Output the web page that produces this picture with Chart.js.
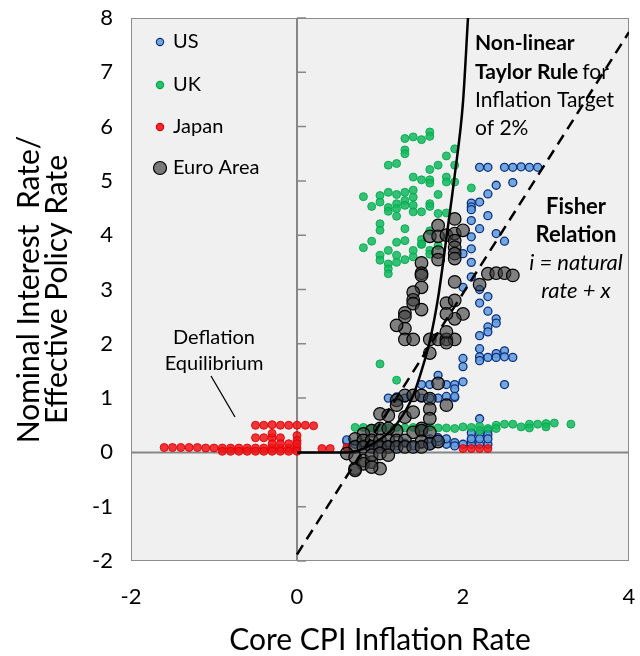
<!DOCTYPE html>
<html><head><meta charset="utf-8">
<script src="https://cdn.jsdelivr.net/npm/chart.js@4/dist/chart.umd.min.js"></script>
<style>html,body{margin:0;padding:0;background:#fff}#wrap{width:640px;height:656px}</style>
</head><body><div id="wrap"><canvas id="c" width="640" height="656"></canvas></div>
<script>
const FONT = 'Lato, "Open Sans", sans-serif';
const seriesNames = ['US', 'UK', 'Japan', 'Euro Area'];
const xTickValues = [-2, 0, 2, 4];
const yTickValues = [-2, -1, 0, 1, 2, 3, 4, 5, 6, 7, 8];

const usData = [
  [2.2,5.25],[2.3,5.25],[2.5,5.25],[2.6,5.25],[2.7,5.26],[2.8,5.25],[2.9,5.25],
  [2.6,4.97],[2.4,4.92],[2.3,4.76],[2.2,4.61],[2.1,4.59],[2.1,4.52],[2.1,4.47],[2.3,4.36],[2.1,4.27],
  [2.2,4.12],[2.4,4.03],[2.5,3.89],[2.1,3.97],[2.1,3.75],[2.0,3.66],[2.1,3.50],[2.1,3.23],[2.0,3.04],
  [2.2,3.00],[2.3,2.87],[2.2,2.75],[2.3,2.60],[2.4,2.46],[2.4,2.38],[2.3,2.31],[2.3,2.22],[2.2,2.15],
  [2.2,1.91],[2.2,1.76],[2.2,1.69],[2.3,1.75],[2.4,1.82],[2.4,1.75],[2.5,1.87],[2.5,1.76],[2.6,1.75],
  [2.0,1.73],[2.0,1.58],[2.0,1.30],[2.5,1.25],
  [1.5,1.25],[1.6,1.25],[1.7,1.42],[1.8,1.25],[1.9,1.25],[1.9,1.17],[1.9,1.01],
  [1.1,1.00],[1.2,1.02],[1.3,1.00],[1.5,1.00],[1.6,1.00],[1.7,1.00],[1.8,1.03],[1.9,1.03],
  [2.2,0.62],[2.2,0.34],[2.3,0.40],[2.3,0.33],[2.1,0.36],
  [1.9,0.18],[1.9,0.12],[2.0,0.15],[2.1,0.22],[2.1,0.15],[2.2,0.15],[2.3,0.15],
  [0.6,0.20],[0.7,0.15],[0.8,0.12],[0.9,0.15],[1.0,0.12],[1.1,0.15],[1.2,0.12],[1.3,0.17],[1.4,0.12],
  [1.5,0.15],[1.6,0.12],[1.7,0.20],[1.8,0.15],
  [0.6,0.23],[1.6,0.25],[1.7,0.27],[1.8,0.25],[2.1,0.25],[2.2,0.25],[2.3,0.25]
];

const ukData = [
  [1.3,5.78],[1.4,5.81],[1.5,5.76],[1.6,5.90],[1.6,5.82],[1.3,5.57],[1.3,5.50],[1.1,5.29],[1.2,5.32],
  [1.8,5.46],[1.9,5.59],[1.7,5.29],[1.9,5.29],[1.6,5.21],[1.4,5.07],[1.5,5.02],[1.6,5.02],[1.6,4.96],
  [1.8,5.07],[1.8,4.98],[1.9,4.98],[2.1,4.87],
  [0.8,4.71],[0.9,4.53],[1.0,4.73],[1.0,4.61],[1.1,4.79],[1.1,4.51],[1.1,4.44],[1.2,4.75],[1.2,4.58],
  [1.2,4.49],[1.2,4.35],[1.3,4.79],[1.3,4.64],[1.3,4.55],[1.4,4.83],[1.4,4.70],[1.4,4.55],[1.4,4.43],
  [1.5,4.43],[1.6,4.58],[1.6,4.53],[1.7,4.75],[1.7,4.40],[1.8,4.41],
  [1.0,4.21],[1.0,4.09],[1.3,4.12],[0.9,3.89],[0.8,3.77],[1.2,3.87],[1.3,3.90],[1.5,3.92],[1.5,3.83],
  [1.6,4.08],[1.7,3.81],[1.1,3.72],
  [1.0,3.63],[1.0,3.54],[1.1,3.47],[1.1,3.38],[1.1,3.29],[1.2,3.63],[1.2,3.50],[1.3,3.55],[1.4,3.72],
  [1.4,3.60],[1.5,3.84],[1.6,3.72],[1.6,3.65],
  [1.0,1.63],[1.2,1.33],
  [0.7,0.46],[0.8,0.46],[0.9,0.45],[1.0,0.46],[1.1,0.45],[1.2,0.46],[1.3,0.45],[1.4,0.46],[1.5,0.45],
  [1.6,0.47],[1.7,0.45],[1.8,0.45],[1.9,0.44],[2.0,0.47],[2.1,0.46],[2.2,0.48],[2.3,0.44],[2.4,0.50],
  [2.5,0.52],[2.6,0.52],[2.7,0.47],[2.8,0.52],[2.9,0.52],[3.0,0.53],[3.1,0.54],[3.3,0.52],
  [2.2,0.40],[2.4,0.44],[2.8,0.45],[3.0,0.47]
];

const japanData = [
  [-1.6,0.09],[-1.5,0.09],[-1.4,0.09],[-1.3,0.09],[-1.2,0.09],[-1.1,0.08],[-1.0,0.08],
  [-0.9,0.08],[-0.8,0.08],[-0.7,0.08],[-0.6,0.08],[-0.5,0.08],[-0.4,0.08],[-0.3,0.08],[-0.2,0.08],[-0.1,0.08],[0.0,0.08],
  [-0.9,0.02],[-0.8,0.02],[-0.7,0.02],[-0.6,0.02],[-0.5,0.02],[-0.4,0.02],[-0.3,0.02],[-0.2,0.02],[-0.1,0.02],[0.0,0.02],
  [-0.5,0.50],[-0.4,0.50],[-0.3,0.51],[-0.2,0.50],[-0.1,0.50],[0.0,0.50],[0.1,0.50],[0.2,0.49],
  [-0.5,0.27],[-0.4,0.27],[-0.3,0.27],[-0.2,0.27],[-0.3,0.35],[0.0,0.31],[0.0,0.22],[0.0,0.16],
  [-0.3,0.16],[-0.2,0.16],[-0.1,0.16],
  [0.3,0.07],[0.4,0.07],[0.6,0.09],[2.0,0.07],[2.1,0.07],[2.2,0.07],[2.3,0.07]
];

const euroData = [
  [1.9,4.30],[1.7,4.18],[1.6,3.98],[1.7,3.98],[1.8,4.00],[1.9,4.03],[1.9,3.90],[1.9,3.78],[1.9,3.66],
  [1.9,3.57],[2.0,4.09],[1.7,3.69],[1.7,3.55],[1.5,3.49],[1.5,3.30],[1.5,3.26],[1.5,3.04],[1.4,2.95],
  [1.4,2.81],[1.4,2.74],[1.5,2.63],[1.3,2.57],[1.3,2.50],[1.3,2.28],[1.2,2.34],[1.3,2.08],[1.4,2.08],
  [1.6,2.08],[1.7,2.08],[1.8,2.08],[1.9,2.08],[1.8,2.02],[1.6,1.83],[1.8,2.22],[1.9,3.14],[2.2,3.09],
  [1.8,2.75],[1.9,2.80],[2.0,2.55],[1.9,2.46],[1.8,2.55],[2.3,3.29],[2.4,3.30],[2.5,3.30],[2.6,3.26],
  [1.3,1.05],[1.4,1.05],[1.5,1.05],[1.2,0.96],[1.2,0.87],[1.6,0.99],[1.6,0.80],[1.8,0.87],[1.7,1.27],
  [1.0,0.71],[1.1,0.68],[1.3,0.65],[1.4,0.74],[1.6,0.62],[1.5,0.44],[1.4,0.37],[0.9,0.40],[0.8,0.34],
  [0.7,0.25],[1.2,0.40],[1.0,0.44],[1.1,0.44],[1.5,0.40],[1.6,0.37],
  [0.8,0.22],[0.9,0.22],[1.0,0.22],[1.1,0.22],[1.2,0.22],[1.3,0.22],[1.5,0.20],[1.6,0.16],[1.7,0.20],
  [0.7,0.10],[0.8,0.10],[0.9,0.10],[1.0,0.10],[1.1,0.10],[1.2,0.10],[1.3,0.10],[1.4,0.10],[1.5,0.10],
  [0.6,-0.02],[0.7,-0.09],[0.8,-0.15],[0.7,-0.30],[0.8,-0.21],[0.9,-0.18],[1.0,-0.30],[0.9,-0.27],
  [0.7,-0.33],[0.9,-0.05],[1.0,-0.02],[1.1,-0.05]
];

const taylorCurve = [[0,0],[0.6,0],[0.8,0.07],[1.0,0.24],[1.2,0.52],[1.4,1.05],[1.5,1.5],[1.6,2.05],[1.7,2.85],[1.8,3.95],[1.9,5.1],[2.0,6.45],[2.06,8]];
const fisherLine = [[0,-1.88],[4,7.74]];

const pts = a => a.map(p => ({x: p[0], y: p[1]}));

const legendStyles = [
  {fill:'rgba(100,160,220,0.9)', stroke:'#0d2f82', r:3.6},
  {fill:'rgba(20,185,95,0.9)', stroke:'#00a84a', r:3.6},
  {fill:'rgba(240,20,25,0.9)', stroke:'#e00000', r:3.6},
  {fill:'rgba(70,70,70,0.7)', stroke:'#000', r:6.5}
];

const bgPlugin = {
  id: 'bg',
  beforeDatasetsDraw(chart) {
    const {ctx, chartArea: a, scales: {x, y}} = chart;
    ctx.save();
    ctx.fillStyle = '#f0f0f0';
    ctx.fillRect(a.left, a.top, a.right - a.left, a.bottom - a.top);
    ctx.strokeStyle = '#8c8c8c';
    ctx.lineWidth = 1;
    ctx.strokeRect(a.left + 0.5, a.top + 0.5, a.right - a.left - 1, a.bottom - a.top - 1);
    ctx.strokeStyle = '#868686';
    ctx.lineWidth = 2;
    const x0 = x.getPixelForValue(0), y0 = y.getPixelForValue(0);
    ctx.beginPath();
    ctx.moveTo(a.left, y0); ctx.lineTo(a.right, y0);
    ctx.moveTo(x0, a.top); ctx.lineTo(x0, a.bottom);
    ctx.stroke();
    ctx.lineWidth = 1.5;
    ctx.beginPath();
    yTickValues.forEach(v => { const py = y.getPixelForValue(v); ctx.moveTo(x0, py); ctx.lineTo(x0 + 9, py); });
    ctx.stroke();
    ctx.restore();
  }
};

const annoPlugin = {
  id: 'anno',
  afterDraw(chart) {
    const {ctx} = chart;
    ctx.save();
    ctx.fillStyle = '#000';
    ctx.textBaseline = 'middle';
    seriesNames.forEach((n, i) => {
      const yy = [42, 85, 127, 168][i];
      const s = legendStyles[i];
      ctx.beginPath();
      ctx.arc(160, yy, s.r, 0, Math.PI * 2);
      ctx.fillStyle = s.fill; ctx.fill();
      ctx.lineWidth = 1.2; ctx.strokeStyle = s.stroke; ctx.stroke();
      ctx.fillStyle = '#000';
      ctx.font = '20px ' + FONT;
      ctx.textAlign = 'left';
      ctx.fillText(n, 173, yy);
    });
    ctx.textAlign = 'left';
    ctx.font = 'bold 21px ' + FONT;
    ctx.fillText('Non-linear', 475, 43);
    ctx.fillText('Taylor Rule', 475, 72);
    const w = ctx.measureText('Taylor Rule').width;
    ctx.font = '21px ' + FONT;
    ctx.fillText('for', 475 + w + 4, 72);
    ctx.fillText('Inflation Target', 475, 100);
    ctx.fillText('of 2%', 475, 128);
    ctx.textAlign = 'center';
    ctx.font = 'bold 22px ' + FONT;
    ctx.fillText('Fisher', 576, 207);
    ctx.fillText('Relation', 576, 235);
    ctx.font = 'italic 22px ' + FONT;
    ctx.fillText('i = natural', 576, 263);
    ctx.fillText('rate + x', 576, 291);
    ctx.font = '20px ' + FONT;
    ctx.fillText('Deflation', 214, 338);
    ctx.fillText('Equilibrium', 214, 364);
    ctx.strokeStyle = '#000'; ctx.lineWidth = 1.3;
    ctx.beginPath(); ctx.moveTo(211, 376); ctx.lineTo(235, 417); ctx.stroke();
    ctx.restore();
  }
};

new Chart(document.getElementById('c'), {
  type: 'scatter',
  data: {
    datasets: [
      {label: 'Taylor', type: 'line', data: pts(taylorCurve), borderColor: '#000', borderWidth: 2.5, pointRadius: 0, cubicInterpolationMode: 'monotone', fill: false, order: 0},
      {label: 'Fisher', type: 'line', data: pts(fisherLine), borderColor: '#000', borderWidth: 2.5, borderDash: [11, 7], pointRadius: 0, fill: false, order: 1},
      {label: seriesNames[3], data: pts(euroData), backgroundColor: 'rgba(60,60,60,0.62)', borderColor: '#000', borderWidth: 1.2, pointRadius: 6.3, order: 2},
      {label: seriesNames[2], data: pts(japanData), backgroundColor: 'rgba(240,20,25,0.85)', borderColor: 'rgba(225,0,0,0.9)', borderWidth: 1, pointRadius: 4, order: 3},
      {label: seriesNames[1], data: pts(ukData), backgroundColor: 'rgba(20,185,95,0.85)', borderColor: 'rgba(0,170,75,0.9)', borderWidth: 1, pointRadius: 4, order: 4},
      {label: seriesNames[0], data: pts(usData), backgroundColor: 'rgba(100,160,220,0.9)', borderColor: '#0d2f82', borderWidth: 1.3, pointRadius: 4, order: 5}
    ]
  },
  options: {
    responsive: false,
    animation: false,
    layout: {padding: {top: 18, right: 11, left: 0, bottom: 0}},
    plugins: {legend: {display: false}, tooltip: {enabled: false}},
    scales: {
      x: {
        type: 'linear', min: -2, max: 4,
        afterBuildTicks: s => { s.ticks = xTickValues.map(v => ({value: v})); },
        grid: {display: false, drawTicks: false}, border: {display: false},
        ticks: {font: {family: FONT, size: 22}, color: '#000', padding: 23},
        title: {display: true, text: 'Core CPI Inflation Rate', font: {family: FONT, size: 30, lineHeight: 1.0}, color: '#000', padding: {bottom: 1}},
        afterFit: s => { s.height = 95; s.paddingLeft = 0; s.paddingRight = 0; }
      },
      y: {
        type: 'linear', min: -2, max: 8,
        afterBuildTicks: s => { s.ticks = yTickValues.map(v => ({value: v})); },
        grid: {display: false, drawTicks: false}, border: {display: false},
        ticks: {font: {family: FONT, size: 22}, color: '#000', padding: 18},
        title: {display: true, text: ['Nominal Interest  Rate/', 'Effective Policy Rate'], font: {family: FONT, size: 30, lineHeight: 0.92}, color: '#000', padding: {top: 16}},
        afterFit: s => { s.width = 131; s.paddingTop = 0; s.paddingBottom = 0; }
      }
    }
  },
  plugins: [bgPlugin, annoPlugin]
});
</script></body></html>
